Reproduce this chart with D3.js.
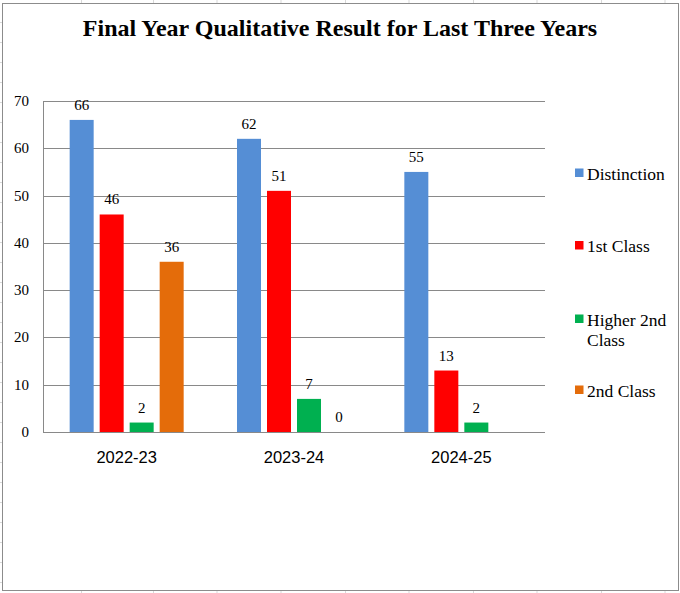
<!DOCTYPE html>
<html>
<head>
    <meta charset="utf-8">
    <title>Final Year Qualitative Result</title>
    <script src="https://unpkg.com/d3@7.8.2/dist/d3.min.js"></script>
    <style>
        body { margin: 0; background: #fff; }
        svg { display: block; }
    </style>
</head>
<body>
    <div id="chart"></div>

    <script>
        // data
        const years = ["2022-23", "2023-24", "2024-25"];
        const classes = ["Distinction", "1st Class", "Higher 2nd Class", "2nd Class"];
        const legendLines = [["Distinction"], ["1st Class"], ["Higher 2nd", "Class"], ["2nd Class"]];
        const distinction = [66, 62, 55];
        const firstClass = [46, 51, 13];
        const higherSecond = [2, 7, 2];
        const secondClass = [36, 0, null];
        const yTicks = [0, 10, 20, 30, 40, 50, 60, 70];
        const colors = ["#558ED5", "#FF0000", "#00B050", "#E46C0A"];

        const series = [distinction, firstClass, higherSecond, secondClass];

        const W = 680, H = 593;
        const plot = { left: 43, right: 545, top: 101, bottom: 432 };

        const svg = d3.select("#chart")
            .append("svg")
            .attr("width", W)
            .attr("height", H);

        // faint spreadsheet cells peeking out around the chart
        const cellX = [81.5, 153.5, 217, 281, 345.5, 409, 473.5, 537, 601.5, 665];
        svg.selectAll(".cellTop")
            .data(cellX)
            .enter()
            .append("line")
            .attr("x1", d => d).attr("x2", d => d)
            .attr("y1", 0).attr("y2", 3)
            .attr("stroke", "#d9d9d9");
        svg.selectAll(".cellBottom")
            .data(cellX)
            .enter()
            .append("line")
            .attr("x1", d => d).attr("x2", d => d)
            .attr("y1", 591).attr("y2", H)
            .attr("stroke", "#d9d9d9");
        svg.selectAll(".cellLeft")
            .data(d3.range(22.5, H, 20))
            .enter()
            .append("line")
            .attr("x1", 0).attr("x2", 2)
            .attr("y1", d => d).attr("y2", d => d)
            .attr("stroke", "#d9d9d9");

        // chart frame
        svg.append("rect")
            .attr("x", 2.5)
            .attr("y", 3.5)
            .attr("width", 676)
            .attr("height", 587)
            .attr("fill", "#fff")
            .attr("stroke", "#8c8c8c");

        // title
        svg.append("text")
            .attr("x", 340)
            .attr("y", 36)
            .attr("text-anchor", "middle")
            .style("font-family", "'Liberation Serif', 'Times New Roman', serif")
            .style("font-weight", "bold")
            .style("font-size", "24px")
            .text("Final Year Qualitative Result for Last Three Years");

        // scales
        const x0 = d3.scaleBand()
            .domain(years)
            .range([plot.left, plot.right]);

        const x1 = d3.scaleBand()
            .domain(classes)
            .range([0, 114])
            .paddingInner(0.2)
            .paddingOuter(0);

        const y = d3.scaleLinear()
            .domain([0, 70])
            .range([plot.bottom, plot.top]);

        const groupOffset = (x0.bandwidth() - 114) / 2;

        // gridlines
        svg.selectAll(".grid")
            .data(yTicks)
            .enter()
            .append("line")
            .attr("x1", plot.left)
            .attr("x2", plot.right)
            .attr("y1", d => Math.round(y(d)) + 0.5)
            .attr("y2", d => Math.round(y(d)) + 0.5)
            .attr("stroke", "#898989")
            .attr("stroke-width", 1);

        // value axis line
        svg.append("line")
            .attr("x1", plot.left + 0.5)
            .attr("x2", plot.left + 0.5)
            .attr("y1", plot.top)
            .attr("y2", plot.bottom)
            .attr("stroke", "#898989");

        // y tick labels
        svg.selectAll(".ytick")
            .data(yTicks)
            .enter()
            .append("text")
            .attr("x", 29)
            .attr("y", d => y(d) + 5)
            .attr("text-anchor", "end")
            .style("font-family", "'Liberation Serif', 'Times New Roman', serif")
            .style("font-size", "15px")
            .text(d => d);

        // category labels
        svg.selectAll(".xtick")
            .data(years)
            .enter()
            .append("text")
            .attr("x", d => x0(d) + x0.bandwidth() / 2)
            .attr("y", 463)
            .attr("text-anchor", "middle")
            .style("font-family", "'Liberation Sans', Arial, sans-serif")
            .style("font-size", "16.5px")
            .text(d => d);

        // flatten to one record per bar
        const bars = [];
        years.forEach((yr, i) => {
            classes.forEach((c, j) => {
                const v = series[j][i];
                if (v !== null) bars.push({ year: yr, cls: c, value: v, color: colors[j] });
            });
        });

        const g = svg.append("g");

        g.selectAll("rect")
            .data(bars)
            .enter()
            .append("rect")
            .attr("x", d => x0(d.year) + groupOffset + x1(d.cls))
            .attr("y", d => y(d.value))
            .attr("width", x1.bandwidth())
            .attr("height", d => y(0) - y(d.value))
            .attr("fill", d => d.color);

        g.selectAll("text")
            .data(bars)
            .enter()
            .append("text")
            .attr("x", d => x0(d.year) + groupOffset + x1(d.cls) + x1.bandwidth() / 2)
            .attr("y", d => y(d.value) - 10)
            .attr("text-anchor", "middle")
            .style("font-family", "'Liberation Serif', 'Times New Roman', serif")
            .style("font-size", "15px")
            .text(d => d.value);

        // legend
        const legendY = [173, 245.5, 319, 390];
        const legend = svg.selectAll(".legend")
            .data(classes)
            .enter()
            .append("g")
            .attr("transform", (d, i) => "translate(575," + legendY[i] + ")");

        legend.append("rect")
            .attr("x", 0)
            .attr("y", -4.5)
            .attr("width", 8.5)
            .attr("height", 8.5)
            .attr("fill", (d, i) => colors[i]);

        legend.append("text")
            .attr("x", 12)
            .attr("y", 6.5)
            .style("font-family", "'Liberation Serif', 'Times New Roman', serif")
            .style("font-size", "17.5px")
            .selectAll("tspan")
            .data((d, i) => legendLines[i])
            .enter()
            .append("tspan")
            .attr("x", 12)
            .attr("dy", (d, i) => i === 0 ? 0 : 20)
            .text(d => d);
    </script>
</body>
</html>
